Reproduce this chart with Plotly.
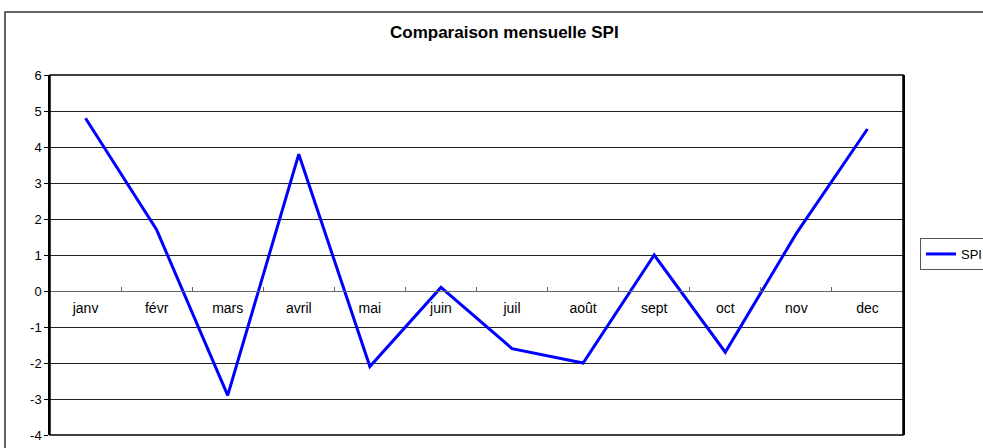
import plotly.graph_objects as go

months = ["janv", "févr", "mars", "avril", "mai", "juin", "juil", "août", "sept", "oct", "nov", "dec"]
spi = [4.8, 1.7, -2.9, 3.8, -2.1, 0.1, -1.6, -2.0, 1.0, -1.7, 1.6, 4.5]
y_ticks = [6, 5, 4, 3, 2, 1, 0, -1, -2, -3, -4]

W, H = 983, 448
L, T = 50, 75
pw, ph = 853, 360
R = W - L - pw
B = H - T - ph

fig = go.Figure()
fig.add_trace(go.Scatter(x=months, y=spi, mode="lines", name="SPI",
                         line=dict(color="#0000FF", width=3)))

font = "Liberation Sans, Arial, sans-serif"
fig.update_layout(
    width=W, height=H,
    margin=dict(l=L, r=R, t=T, b=B, autoexpand=False),
    paper_bgcolor="white", plot_bgcolor="white",
    font=dict(family=font, size=12, color="black"),
    showlegend=True,
    legend=dict(x=(920 - L) / pw, y=(435 - 254) / ph, xanchor="left", yanchor="middle",
                bordercolor="#555555", borderwidth=1, bgcolor="white",
                font=dict(size=13), itemwidth=30, tracegroupgap=0),
    annotations=[dict(text="<b>Comparaison mensuelle SPI</b>", xref="paper", yref="paper",
                      x=(504 - L) / pw, y=1 + (T - 33) / ph, xanchor="center", yanchor="middle",
                      showarrow=False, font=dict(size=17, family=font))],
    shapes=[dict(type="rect", xref="paper", yref="paper",
                 x0=(5 - L) / pw, x1=(W + 20 - L) / pw,
                 y0=-(B + 20) / ph, y1=1 + (T - 12) / ph,
                 line=dict(color="#333333", width=1.5), fillcolor="rgba(0,0,0,0)", layer="below")],
)
fig.update_xaxes(type="category", anchor="free", position=4 / 10,
                 showline=True, linecolor="#666666", linewidth=1,
                 ticks="inside", ticklen=4, tickcolor="#666666", tickson="boundaries",
                 showgrid=False, zeroline=False, range=[-0.5, 11.5],
                 tickfont=dict(size=14), ticklabelstandoff=4, fixedrange=True)
fig.update_yaxes(range=[-4, 6], tickvals=y_ticks, ticktext=[str(v) for v in y_ticks],
                 showgrid=True, gridcolor="#222222", gridwidth=1,
                 zeroline=False, showline=True, linecolor="black", linewidth=1.5, mirror=True,
                 ticks="outside", ticklen=4, tickcolor="black", tickfont=dict(size=13))
fig.add_shape(type="rect", xref="paper", yref="paper", x0=0, x1=1, y0=0, y1=1,
              line=dict(color="black", width=1.5), fillcolor="rgba(0,0,0,0)", layer="above")

fig.write_html("out.html", config={"displayModeBar": False},
               post_script="document.body.style.margin='0';document.body.style.overflow='hidden';")
